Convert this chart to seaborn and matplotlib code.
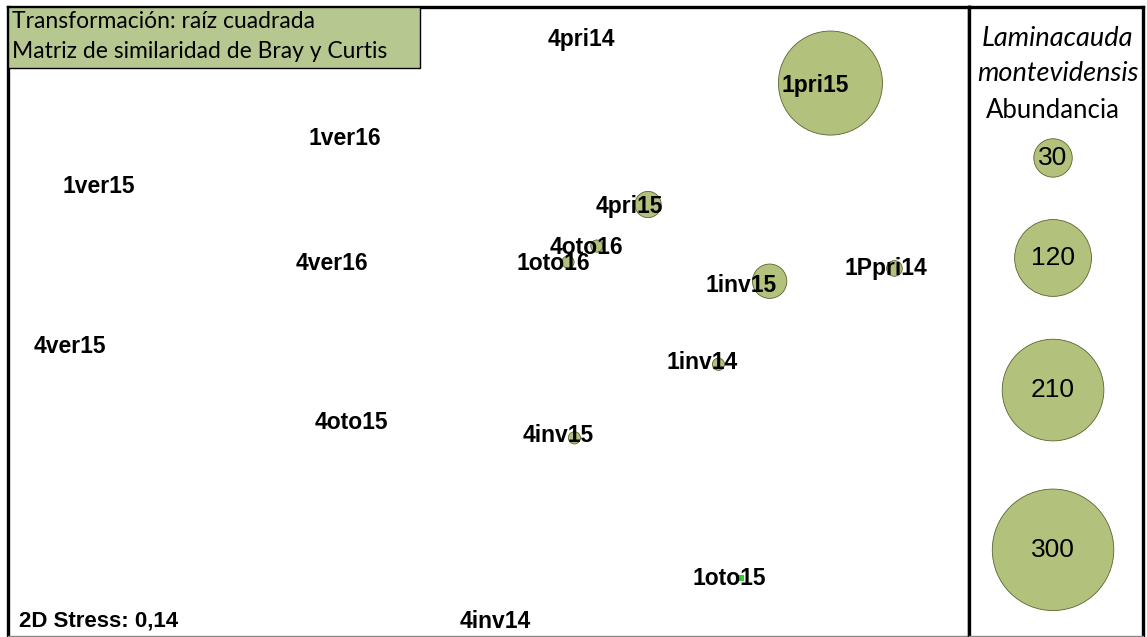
import matplotlib.pyplot as plt
import numpy as np
import pandas as pd
import seaborn as sns
from matplotlib.patches import Rectangle

# nMDS ordination (sample labels, coordinates) and bubble values
SAMPLES = ["1pri15", "4pri14", "1ver16", "1ver15", "4pri15", "4oto16", "1oto16", "4ver16",
           "1inv15", "1Ppri14", "4ver15", "1inv14", "4oto15", "4inv15", "1oto15", "4inv14"]
MDS1 = [1.07, 0.34, -0.40, -1.17, 0.50, 0.34, 0.25, -0.44,
        0.88, 1.27, -1.26, 0.72, -0.38, 0.27, 0.79, 0.07]
MDS2 = [0.74, 0.88, 0.57, 0.42, 0.36, 0.23, 0.18, 0.18,
        0.12, 0.16, -0.08, -0.14, -0.32, -0.37, -0.81, -0.94]
ABUNDANCE = [220, 0, 0, 0, 14, 3, 3, 0, 24, 5, 0, 3, 0, 3, 1, 0]
LEGEND_VALUES = [30, 120, 210, 300]

SPECIES = ["Laminacauda", "montevidensis"]
TRANSFORM_TEXT = ["Transformación: raíz cuadrada", "Matriz de similaridad de Bray y Curtis"]
STRESS = "2D Stress: 0,14"

# label offsets (pixels) relative to each point, default left of the bubble
LABEL_OFFSET = {"4pri15": (-19, -2), "4oto16": (-10, -1), "1oto16": (-15, -1),
                "1inv15": (-29, -4), "1Ppri14": (-9, 0), "1inv14": (-16, 2),
                "4inv15": (-16, 2), "1oto15": (-12, 0), "1pri15": (-15, -2)}
DEFAULT_OFFSET = (-15, -1)

BUBBLE = "#b2c27c"
BOX = "#b6c78f"
SIZE_PER_UNIT = 25.5  # marker area (pt^2) per individual
SIZES = (0, SIZE_PER_UNIT * 300)
SIZE_NORM = (0, 300)

df = pd.DataFrame({"sample": SAMPLES, "x": MDS1, "y": MDS2, "abundance": ABUNDANCE})

sns.set_theme(style="white")
plt.rcParams["font.family"] = ["Liberation Sans", "DejaVu Sans"]
plt.rcParams["text.color"] = "black"
CAL = ["Lato", "DejaVu Sans"]

fig = plt.figure(figsize=(11.47, 6.37), dpi=100)
W, H = 1147, 637
ax = fig.add_axes([8 / W, 1 - 636 / H, (969 - 8) / W, (636 - 7) / H])
lax = fig.add_axes([969 / W, 1 - 636 / H, (1143 - 969) / W, (636 - 7) / H])

bubbles = df[df["abundance"] > 1]
sns.scatterplot(data=bubbles, x="x", y="y", size="abundance", sizes=SIZES, size_norm=SIZE_NORM,
                color=BUBBLE, edgecolor="#5a6330", linewidth=0.6, legend=False, ax=ax, zorder=2)
trace = df[df["abundance"] == 1]
sns.scatterplot(data=trace, x="x", y="y", marker="s", s=18, color="#33cc33",
                linewidth=0, legend=False, ax=ax, zorder=2)

for _, row in df.iterrows():
    dx, dy = LABEL_OFFSET.get(row["sample"], DEFAULT_OFFSET)
    ax.annotate(row["sample"], (row["x"], row["y"]), xytext=(dx, dy), textcoords="offset pixels",
                ha="center", va="center", fontsize=16.5, fontweight="bold", color="black", zorder=3)

ax.set_xlim(-1.5, 1.503)
ax.set_ylim(-0.99, 0.978)
ax.set_xticks([])
ax.set_yticks([])
ax.set_xlabel("")
ax.set_ylabel("")
for side in ["left", "top", "right"]:
    ax.spines[side].set_color("black")
    ax.spines[side].set_linewidth(2.4)
ax.spines["bottom"].set_color("#888888")
ax.spines["bottom"].set_linewidth(1.0)

# transformation box
box_w = (420 - 8) / (969 - 8)
box_h = (68 - 7) / (636 - 7)
ax.add_patch(Rectangle((0, 1 - box_h), box_w, box_h, transform=ax.transAxes,
                       facecolor=BOX, edgecolor="black", linewidth=1.0, zorder=4))
for i, line in enumerate(TRANSFORM_TEXT):
    ax.text(0.004, 1 - (21 - 7 + 30 * i) / (636 - 7), line, transform=ax.transAxes,
            ha="left", va="center", fontsize=16.5, family=CAL, zorder=5)

ax.text(0.011, (636 - 621) / (636 - 7), STRESS, transform=ax.transAxes,
        ha="left", va="center", fontsize=16, fontweight="bold", color="black")

# bubble legend panel
leg = pd.DataFrame({"x": [0.483] * len(LEGEND_VALUES),
                    "y": [0.760, 0.601, 0.391, 0.137],
                    "abundance": LEGEND_VALUES})
sns.scatterplot(data=leg, x="x", y="y", size="abundance", sizes=SIZES, size_norm=SIZE_NORM,
                color=BUBBLE, edgecolor="#5a6330", linewidth=0.6, legend=False, ax=lax)
for xv, yv, val in zip(leg["x"], leg["y"], LEGEND_VALUES):
    lax.text(xv, yv, f"{val}", ha="center", va="center", fontsize=19)

lax.text(0.511, 0.950, SPECIES[0], ha="center", va="center", fontsize=19.5, style="italic",
         family=CAL)
lax.text(0.511, 0.894, SPECIES[1], ha="center", va="center", fontsize=19.5, style="italic",
         family=CAL)
lax.text(0.483, 0.836, "Abundancia", ha="center", va="center", fontsize=18.5, family=CAL)

lax.set_xlim(0, 1)
lax.set_ylim(0, 1)
lax.set_xticks([])
lax.set_yticks([])
lax.set_xlabel("")
lax.set_ylabel("")
for side in ["left", "top", "right"]:
    lax.spines[side].set_color("black")
    lax.spines[side].set_linewidth(2.4)
lax.spines["bottom"].set_color("#888888")
lax.spines["bottom"].set_linewidth(1.0)

fig.savefig("out.png", dpi=100)
